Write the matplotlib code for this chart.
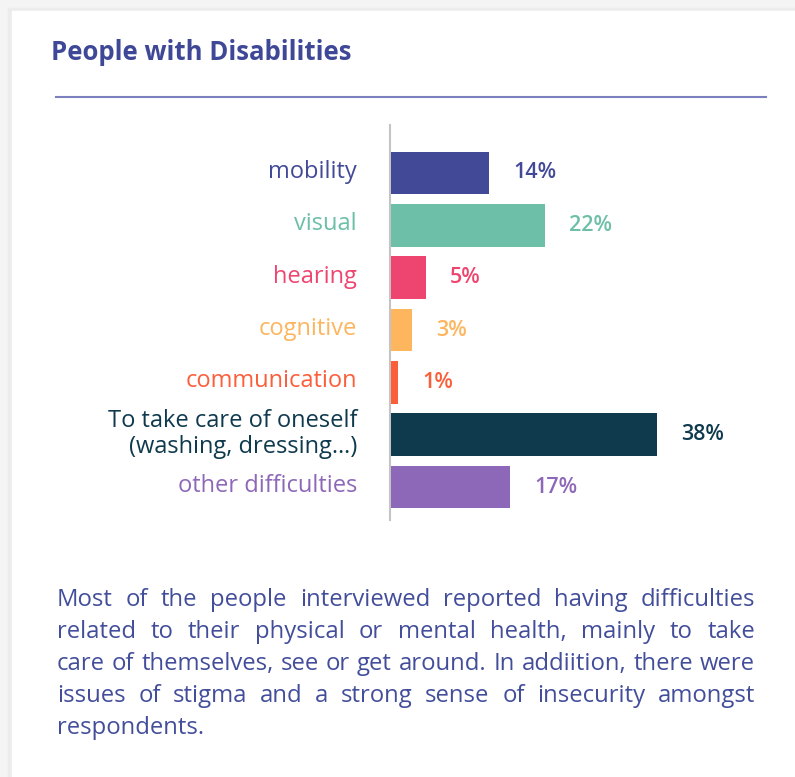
import matplotlib
matplotlib.use('Agg')
import matplotlib.pyplot as plt
from matplotlib.patches import Rectangle

W, H, DPI = 795, 777, 100

categories = ['mobility', 'visual', 'hearing', 'cognitive', 'communication',
              'To take care of oneself\n(washing, dressing…)', 'other difficulties']
values = [14, 22, 5, 3, 1, 38, 17]
colors = ['#424A98', '#6DBFA8', '#EE4570', '#FDB55E', '#FB5F3A', '#0F3A4E', '#8E68B8']

title = 'People with Disabilities'
paragraph = [
    'Most of the people interviewed reported having difficulties',
    'related to their physical or mental health, mainly to take',
    'care of themselves, see or get around. In addiition, there were',
    'issues of stigma and a strong sense of insecurity amongst',
    'respondents.',
]

FONT = 'Open Sans'
BLUE = '#3F4896'
TEXT_BLUE = '#434E9B'
PARA_SIZE = 17.2

fig = plt.figure(figsize=(W / DPI, H / DPI), dpi=DPI, facecolor='#f4f4f4')

# background / card, in pixel coords
bg = fig.add_axes([0, 0, 1, 1])
bg.set_xlim(0, W)
bg.set_ylim(H, 0)
bg.axis('off')
bg.add_patch(Rectangle((8, 8), W, H, color='#ececec', zorder=0))
bg.add_patch(Rectangle((12, 11), W, H, color='white', zorder=1))

bg.text(51, 52, title, fontsize=18.5, fontweight='bold', color=BLUE,
        family=FONT, va='center', ha='left', zorder=2)
bg.plot([56, 766], [97, 97], color='#7C80BE', lw=1.5, zorder=2)

# justified paragraph
renderer = fig.canvas.get_renderer()
x0, x1 = 57, 755
for k, line in enumerate(paragraph):
    y = 600 + 32 * k
    words = line.split()
    if k == len(paragraph) - 1:
        bg.text(x0, y, line, fontsize=PARA_SIZE, color=TEXT_BLUE, family=FONT,
                va='center', ha='left', zorder=2)
        continue
    texts = [bg.text(0, y, w, fontsize=PARA_SIZE, color=TEXT_BLUE, family=FONT,
                     va='center', ha='left', zorder=2) for w in words]
    widths = [t.get_window_extent(renderer).width for t in texts]
    gap = (x1 - x0 - sum(widths)) / (len(words) - 1)
    x = x0
    for t, wd in zip(texts, widths):
        t.set_x(x)
        x += wd + gap

# bar chart
ax = fig.add_axes([391 / W, 1 - 520 / H, 350 / W, 395 / H])
ax.set_facecolor('none')
ys = list(range(len(values)))
ax.barh(ys, values, height=0.82, color=colors, zorder=3)
ax.set_xlim(0, 50)
ax.set_ylim(6.63, -0.917)
ax.set_xticks([])
ax.set_yticks([])
for s in ['top', 'right', 'bottom']:
    ax.spines[s].set_visible(False)
ax.spines['left'].set_color('#c4c4c4')
ax.spines['left'].set_linewidth(1.5)
ax.spines['left'].set_position(('outward', 1))

for y, cat, v, c in zip(ys, categories, values, colors):
    ax.annotate(cat, xy=(0, y), xytext=(-34, 1), textcoords='offset pixels',
                ha='right', va='center', multialignment='right',
                fontsize=17, color=c, family=FONT, linespacing=1.1,
                annotation_clip=False)
    ax.annotate(f'{v}%', xy=(v, y), xytext=(24, 0), textcoords='offset pixels',
                ha='left', va='center', fontsize=15.5, fontweight='semibold',
                color=c, family=FONT, annotation_clip=False)

fig.savefig('out.png', dpi=DPI, facecolor=fig.get_facecolor())
